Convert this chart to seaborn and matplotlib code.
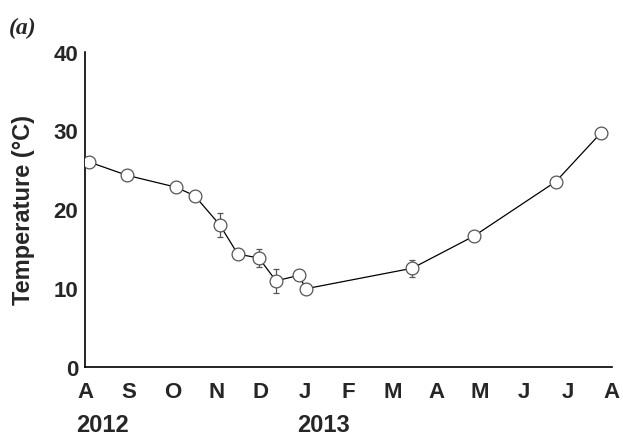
import matplotlib
matplotlib.use("Agg")
import matplotlib.pyplot as plt
import seaborn as sns
import numpy as np
import pandas as pd

# Sampling dates as months elapsed since 1 Aug 2012
months = [0.09, 0.96, 2.07, 2.50, 3.07, 3.48, 3.96, 4.35, 4.87, 5.03, 7.45, 8.86, 10.72, 11.75]
temperature = [26.0, 24.3, 22.8, 21.7, 18.0, 14.3, 13.8, 10.9, 11.6, 9.9, 12.5, 16.6, 23.5, 29.7]
temp_err = [0.0, 0.0, 0.5, 0.0, 1.5, 0.0, 1.1, 1.5, 0.0, 0.0, 1.1, 0.0, 0.0, 0.0]

month_labels = ["A", "S", "O", "N", "D", "J", "F", "M", "A", "M", "J", "J", "A"]
year_labels = ["2012", "2013"]
y_ticks = [0, 10, 20, 30, 40]

df = pd.DataFrame({"month": months, "temp": temperature, "err": temp_err})

sns.set_style("white")
plt.rcParams["font.family"] = ["Liberation Sans", "DejaVu Sans"]

fig = plt.figure(figsize=(6.23, 4.39), dpi=100)
W, H = 623, 439
ax = fig.add_axes([85 / W, (H - 367.7) / H, (612 - 85) / W, (367.7 - 52.7) / H])

# error bars first so the open circles sit on top
mask = df["err"] > 0
ax.errorbar(df.loc[mask, "month"], df.loc[mask, "temp"], yerr=df.loc[mask, "err"],
            fmt="none", ecolor="#555555", elinewidth=0.9, capsize=2.2, capthick=0.9, zorder=2)

sns.lineplot(data=df, x="month", y="temp", ax=ax, sort=False, color="black",
             linewidth=0.9, marker="o", markersize=9.2, markerfacecolor="white",
             markeredgecolor="#555555", markeredgewidth=0.9, zorder=3)

ax.set_xlim(0, 12)
ax.set_ylim(0, 40)
ax.set_xticks(range(13))
ax.set_xticklabels(month_labels)
ax.set_yticks(y_ticks)
ax.set_yticklabels([str(t) for t in y_ticks])
for lab in ax.get_xticklabels() + ax.get_yticklabels():
    lab.set_fontweight("bold")
    lab.set_fontsize(16)

ax.tick_params(axis="both", direction="in", length=3.5, width=1, color="black", pad=5)
ax.tick_params(axis="x", pad=10)
for side in ["top", "right"]:
    ax.spines[side].set_visible(False)
for side in ["left", "bottom"]:
    ax.spines[side].set_color("black")
    ax.spines[side].set_linewidth(1.2)

ax.set_xlabel("")
ax.set_ylabel("Temperature (°C)", fontsize=17, fontweight="bold")
ax.yaxis.set_label_coords(-0.095, 0.5)

fig.text(76 / W, 1 - 426 / H, year_labels[0], fontsize=17, fontweight="bold", va="center", ha="left")
fig.text(297 / W, 1 - 426 / H, year_labels[1], fontsize=17, fontweight="bold", va="center", ha="left")
fig.text(9 / W, 1 - 28 / H, "(a)", fontsize=17, fontweight="bold", fontstyle="italic",
         family=["Liberation Serif", "DejaVu Serif"], va="center", ha="left")

fig.savefig("out.png", dpi=100)
